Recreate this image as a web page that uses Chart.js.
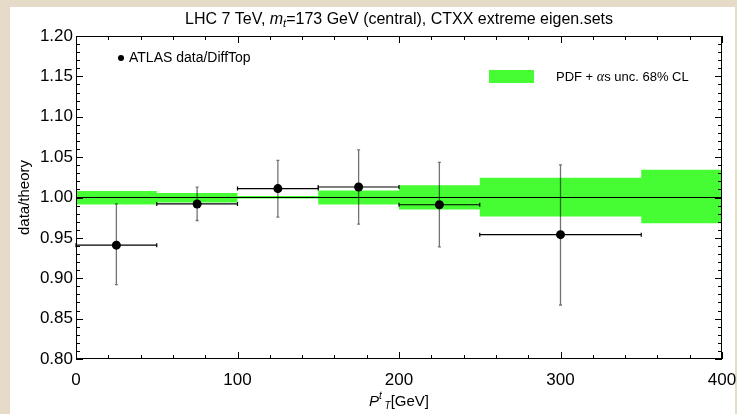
<!DOCTYPE html>
<html lang="en">
<head>
<meta charset="UTF-8">
<title>data/theory</title>
<script src="https://cdn.jsdelivr.net/npm/chart.js"></script>
<style>
  body { margin: 0; background: #e6dbc9; }
  #wrap { position: absolute; left: 0; top: 0; width: 737px; height: 414px; }
</style>
</head>
<body>
<div id="wrap"><canvas id="myChart"></canvas></div>
<script>
// PDF + alpha_s band, one value per bin
const binEdges  = [0, 50, 100, 150, 200, 250, 350, 400];
const bandUpper = [1.0080, 1.0055, 1.0020, 1.0088, 1.0153, 1.0244, 1.0343];
const bandLower = [0.9913, 0.9938, 0.9988, 0.9913, 0.9851, 0.9764, 0.9682];

// ATLAS data / DiffTop
const dataX     = [25, 75, 125, 175, 225, 300];
const dataXLow  = [0, 50, 100, 150, 200, 250];
const dataXHigh = [50, 100, 150, 200, 250, 350];
const dataY     = [0.941, 0.992, 1.011, 1.013, 0.991, 0.954];
const errLow    = [0.892, 0.9715, 0.9756, 0.967, 0.9388, 0.8669];
const errHigh   = [0.992, 1.0128, 1.0459, 1.059, 1.0434, 1.0405];

const xTicks = [0, 100, 200, 300, 400];
const yTicks = [0.80, 0.85, 0.90, 0.95, 1.00, 1.05, 1.10, 1.15, 1.20];

const FONT = '"Liberation Sans", Arial, Helvetica, sans-serif';
Chart.defaults.font.family = FONT;
Chart.defaults.color = '#000';

// stepped band: value i holds from edge i to edge i+1
function stepPoints(vals) {
    const pts = vals.map((v, i) => ({x: binEdges[i], y: v}));
    pts.push({x: binEdges[binEdges.length - 1], y: vals[vals.length - 1]});
    return pts;
}

// draws text pieces one after another (for italic / sub / superscript)
function drawRuns(ctx, runs, x, y) {
    let w = 0;
    runs.forEach(r => { ctx.font = r[1]; w += ctx.measureText(r[0]).width; });
    let cx = x - w / 2;
    runs.forEach(r => {
        ctx.font = r[1];
        ctx.fillText(r[0], cx, y + (r[2] || 0));
        cx += ctx.measureText(r[0]).width;
    });
}

const paper = {
    id: 'paper',
    beforeDraw(chart) {
        const ctx = chart.ctx;
        ctx.save();
        ctx.fillStyle = '#fff';
        ctx.fillRect(10, 7, 725, 407);
        ctx.restore();
    }
};

const errorBars = {
    id: 'errorBars',
    beforeDatasetDraw(chart, args) {
        if (args.index !== 0) return;
        const {ctx, scales: {x, y}} = chart;
        ctx.save();
        for (let i = 0; i < dataX.length; i++) {
            const px = x.getPixelForValue(dataX[i]);
            const py = y.getPixelForValue(dataY[i]);
            const x0 = x.getPixelForValue(dataXLow[i]);
            const x1 = x.getPixelForValue(dataXHigh[i]);
            const y0 = y.getPixelForValue(errLow[i]);
            const y1 = y.getPixelForValue(errHigh[i]);
            // horizontal (bin width)
            ctx.strokeStyle = '#000';
            ctx.lineWidth = 1.2;
            ctx.beginPath();
            ctx.moveTo(x0, py); ctx.lineTo(x1, py);
            ctx.moveTo(x0, py - 2); ctx.lineTo(x0, py + 2);
            ctx.moveTo(x1, py - 2); ctx.lineTo(x1, py + 2);
            ctx.stroke();
            // vertical (uncertainty)
            ctx.strokeStyle = 'rgba(0,0,0,0.55)';
            ctx.lineWidth = 1.3;
            ctx.beginPath();
            ctx.moveTo(px, y0); ctx.lineTo(px, y1);
            ctx.moveTo(px - 1.5, y0); ctx.lineTo(px + 1.5, y0);
            ctx.moveTo(px - 1.5, y1); ctx.lineTo(px + 1.5, y1);
            ctx.stroke();
        }
        ctx.restore();
    }
};

const frame = {
    id: 'frame',
    afterDraw(chart) {
        const {ctx, chartArea: a, scales: {x, y}} = chart;
        ctx.save();
        ctx.strokeStyle = '#000';
        ctx.lineWidth = 1;
        ctx.strokeRect(a.left + 0.5, a.top + 0.5, a.width - 1, a.height - 1);
        ctx.beginPath();
        x.ticks.forEach(t => {
            const px = Math.round(x.getPixelForValue(t.value)) + 0.5;
            const len = xTicks.includes(t.value) ? 7 : 4;
            ctx.moveTo(px, a.bottom); ctx.lineTo(px, a.bottom - len);
            ctx.moveTo(px, a.top); ctx.lineTo(px, a.top + len);
        });
        y.ticks.forEach(t => {
            const py = Math.round(y.getPixelForValue(t.value)) + 0.5;
            const major = yTicks.some(v => Math.abs(v - t.value) < 1e-6);
            const len = major ? 7 : 4;
            ctx.moveTo(a.left, py); ctx.lineTo(a.left + len, py);
            ctx.moveTo(a.right, py); ctx.lineTo(a.right - len, py);
        });
        ctx.stroke();

        // title
        ctx.fillStyle = '#000';
        ctx.textBaseline = 'middle';
        const cx = (a.left + a.right) / 2;
        drawRuns(ctx, [
            ['LHC 7 TeV, ', '16px ' + FONT],
            ['m', 'italic 16px ' + FONT],
            ['t', 'italic 11px ' + FONT, 4],
            ['=173 GeV (central), CTXX extreme eigen.sets', '16px ' + FONT]
        ], cx, 20);

        // x axis title
        drawRuns(ctx, [
            ['P', 'italic 15px ' + FONT],
            ['t', 'italic 10px ' + FONT, -6],
            [' ', '10px ' + FONT],
            ['T', 'italic 10px ' + FONT, 4],
            ['[GeV]', '15px ' + FONT]
        ], cx, 402);

        // y axis title
        ctx.save();
        ctx.translate(25, (a.top + a.bottom) / 2);
        ctx.rotate(-Math.PI / 2);
        ctx.textAlign = 'center';
        ctx.font = '15px ' + FONT;
        ctx.fillText('data/theory', 0, 0);
        ctx.restore();

        // legend: data
        ctx.beginPath();
        ctx.arc(a.left + 45, 58, 3, 0, Math.PI * 2);
        ctx.fill();
        ctx.textAlign = 'left';
        ctx.font = '14px ' + FONT;
        ctx.fillText('ATLAS data/DiffTop', a.left + 53, 58);

        // legend: band
        ctx.fillStyle = '#45fd32';
        ctx.fillRect(489, 70, 45, 13);
        ctx.fillStyle = '#000';
        let lx = 556;
        const legRuns = [
            ['PDF + ', '13px ' + FONT],
            ['\u03b1', 'italic 14px "Liberation Serif", serif'],
            ['s unc. 68% CL', '13px ' + FONT]
        ];
        legRuns.forEach(r => {
            ctx.font = r[1];
            ctx.fillText(r[0], lx, 77);
            lx += ctx.measureText(r[0]).width;
        });
        ctx.restore();
    }
};

const ctx = document.querySelector('#myChart');
new Chart(ctx, {
    type: 'line',
    data: {
        datasets: [
            {
                label: 'ATLAS data/DiffTop',
                data: dataX.map((v, i) => ({x: v, y: dataY[i]})),
                showLine: false,
                pointRadius: 4.5,
                pointBackgroundColor: '#000',
                pointBorderWidth: 0,
                order: 0
            },
            {
                label: 'central',
                data: [{x: 0, y: 1}, {x: 400, y: 1}],
                borderColor: '#000',
                borderWidth: 1,
                pointRadius: 0,
                order: 1
            },
            {
                label: 'PDF + as unc. 68% CL',
                data: stepPoints(bandUpper),
                stepped: true,
                borderColor: 'rgba(0,0,0,0)',
                borderWidth: 0,
                pointRadius: 0,
                backgroundColor: '#45fd32',
                fill: '+1',
                order: 2
            },
            {
                label: 'band lower',
                data: stepPoints(bandLower),
                stepped: true,
                borderColor: 'rgba(0,0,0,0)',
                borderWidth: 0,
                pointRadius: 0,
                fill: false,
                order: 3
            }
        ]
    },
    options: {
        responsive: true,
        maintainAspectRatio: false,
        animation: false,
        layout: { padding: { left: 0, right: 15, top: 36, bottom: 0 } },
        plugins: {
            legend: { display: false },
            tooltip: { enabled: false }
        },
        scales: {
            x: {
                type: 'linear',
                min: 0,
                max: 400,
                grid: { display: false, drawTicks: false },
                border: { display: false },
                afterFit: s => { s.height = 55; s.paddingLeft = 0; s.paddingRight = 0; },
                ticks: {
                    stepSize: 20,
                    autoSkip: false,
                    maxRotation: 0,
                    padding: 11,
                    font: { size: 17 },
                    callback: v => xTicks.includes(v) ? String(v) : ''
                }
            },
            y: {
                min: 0.80,
                max: 1.20,
                grid: { display: false, drawTicks: false },
                border: { display: false },
                afterFit: s => { s.width = 76; s.paddingTop = 0; s.paddingBottom = 0; },
                ticks: {
                    stepSize: 0.01,
                    autoSkip: false,
                    padding: 3,
                    font: { size: 17 },
                    callback: v => yTicks.some(t => Math.abs(t - v) < 1e-6) ? v.toFixed(2) : ''
                }
            }
        }
    },
    plugins: [paper, errorBars, frame]
});
</script>
</body>
</html>
